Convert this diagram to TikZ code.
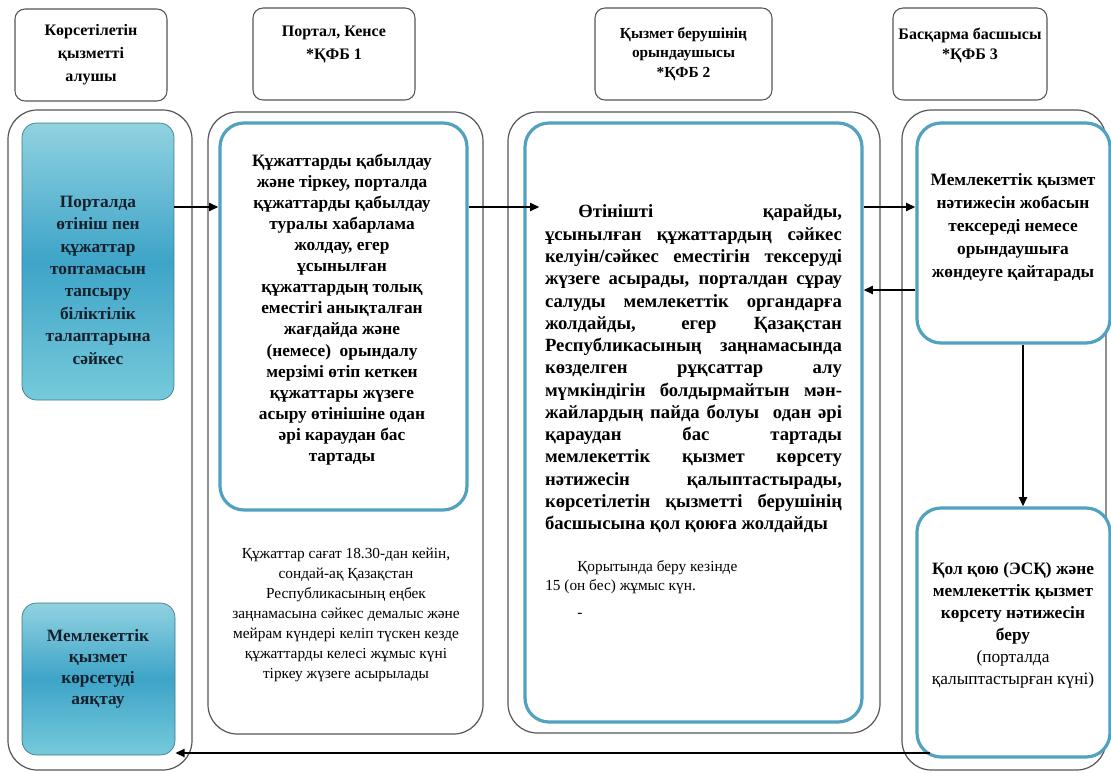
\documentclass[tikz,border=0pt]{standalone}
\usepackage{fontspec}
\setmainfont{Liberation Serif}
\usetikzlibrary{arrows.meta,positioning}

\definecolor{frame}{RGB}{85,85,85}
\definecolor{tealedge}{RGB}{80,162,192}
\definecolor{bluetop}{RGB}{145,210,224}
\definecolor{bluemid}{RGB}{62,164,200}
\definecolor{bluebot}{RGB}{118,202,218}
\definecolor{blueedge}{RGB}{60,118,140}
\definecolor{ink}{RGB}{22,32,44}

\tikzset{
	lane/.style={draw=frame, line width=0.9pt, rounded corners=22pt},
	head/.style={draw=frame, line width=0.8pt, rounded corners=7.5pt, align=center, font=\bfseries\fontsize{12}{17.25}\selectfont},
	bluebox/.style={draw=blueedge, line width=0.5pt, rounded corners=11pt, top color=bluetop, bottom color=bluebot, middle color=bluemid},
	tealbox/.style={draw=tealedge, line width=2.4pt, rounded corners=18pt, fill=white},
	txt/.style={align=center, inner sep=0pt, font=\bfseries\fontsize{13}{16}\selectfont},
	note/.style={align=center, inner sep=0pt, font=\fontsize{11.5}{15}\selectfont},
	arrow/.style={-{Triangle[length=7pt,width=6pt]}, line width=1.6pt},
}

\begin{document}
\begin{tikzpicture}[x=0.75pt,y=-0.75pt]
	\useasboundingbox (0,0) rectangle (1111,772);

	\node (hdrRecipient) [head, minimum width=114pt, minimum height=69pt] at (91,55) {Көрсетілетін\\қызметті\\алушы};
	\node (hdrPortal) [head, minimum width=121.5pt, minimum height=69pt] at (334,54) {Портал, Кенсе\\*ҚФБ 1\\~};
	\node (hdrExecutor) [head, minimum width=132.75pt, minimum height=69pt, font=\bfseries\fontsize{11.5}{14.5}\selectfont] at (683.5,54) {Қызмет берушінің\\орындаушысы\\*ҚФБ 2};
	\node (hdrHead) [head, minimum width=115.5pt, minimum height=69pt, font=\bfseries\fontsize{12}{15}\selectfont] at (970,54) {Басқарма басшысы\\*ҚФБ 3\\~};

	\node (laneRecipient) [lane, minimum width=138pt, minimum height=495pt] at (100,440) {};
	\node (lanePortal) [lane, minimum width=206.25pt, minimum height=466.5pt] at (345.5,423) {};
	\node (laneExecutor) [lane, minimum width=279pt, minimum height=465.75pt] at (694,422.5) {};
	\node (laneHead) [lane, minimum width=153pt, minimum height=495pt] at (1004,440) {};

	\node (apply) [bluebox, minimum width=114pt, minimum height=207.75pt] at (98,261.5) {};
	\node (finish) [bluebox, minimum width=114.75pt, minimum height=114pt] at (98.5,679) {};
	\node (receive) [tealbox, minimum width=185.25pt, minimum height=290.25pt] at (343.5,316.5) {};
	\node (examine) [tealbox, minimum width=252.75pt, minimum height=449.25pt] at (693.5,422.5) {};
	\node (check) [tealbox, minimum width=144.75pt, minimum height=165pt] at (1013.5,233) {};
	\node (issue) [tealbox, minimum width=144.75pt, minimum height=186.75pt] at (1013.5,632.5) {};

	\node (applyText) [txt, text=ink, font=\bfseries\fontsize{13}{16.8}\selectfont] at (98,280) {Порталда\\өтініш пен\\құжаттар\\топтамасын\\тапсыру\\біліктілік\\талаптарына\\сәйкес};
	\node (finishText) [txt, text=ink, font=\bfseries\fontsize{13}{15.75}\selectfont] at (98,669) {Мемлекеттік\\қызмет\\көрсетуді\\аяқтау};
	\node (receiveText) [txt, font=\bfseries\fontsize{13}{15.8}\selectfont] at (342,309.5) {Құжаттарды қабылдау\\және тіркеу, порталда\\құжаттарды қабылдау\\туралы хабарлама\\жолдау, егер\\ұсынылған\\құжаттардың толық\\еместігі анықталған\\жағдайда және\\(немесе)\ \ орындалу\\мерзімі өтіп кеткен\\құжаттары жүзеге\\асыру өтінішіне одан\\әрі караудан бас\\тартады};
	\node (receiveNote) [note] at (346,615) {Құжаттар сағат 18.30-дан кейін,\\сондай-ақ Қазақстан\\Республикасының еңбек\\заңнамасына сәйкес демалыс және\\мейрам күндері келіп түскен кезде\\құжаттарды келесі жұмыс күні\\тіркеу жүзеге асырылады};
	\node (examineText) [txt, align=justify, text width=222.75pt, font=\bfseries\fontsize{14}{16.7}\selectfont] at (693.5,369) {\hyphenpenalty=10000\relax\hspace*{25pt}Өтінішті қарайды,\linebreak ұсынылған құжаттардың сәйкес\linebreak келуін/сәйкес еместігін тексеруді\linebreak жүзеге асырады, порталдан сұрау\linebreak салуды мемлекеттік органдарға\linebreak жолдайды, егер Қазақстан\linebreak Республикасының заңнамасында\linebreak көзделген рұқсаттар алу\linebreak мүмкіндігін болдырмайтын мән-\linebreak жайлардың пайда болуы\ \ одан әрі\linebreak қараудан бас тартады\linebreak мемлекеттік қызмет көрсету\linebreak нәтижесін қалыптастырады,\linebreak көрсетілетін қызметті берушінің\linebreak басшысына қол қоюға жолдайды};
	\node (examineNote) [note, align=left, anchor=north west, font=\fontsize{11.5}{14.25}\selectfont] at (545,560) {\hspace*{24pt}Қорытында беру кезінде\\15 (он бес) жұмыс күн.};
	\node (examineDash) [note] at (580,615) {-};
	\node (checkText) [txt, font=\bfseries\fontsize{13}{17.25}\selectfont] at (1013,227.5) {Мемлекеттік қызмет\\нәтижесін жобасын\\тексереді немесе\\орындаушыға\\жөндеуге қайтарады};
	\node (issueText) [txt, font=\bfseries\fontsize{13}{16.5}\selectfont] at (1013,625) {Қол қою (ЭСҚ) және\\мемлекеттік қызмет\\көрсету нәтижесін\\беру\\{\mdseries (порталда}\\{\mdseries қалыптастырған күні)}};

	\coordinate (rowIn) at (0,207);
	\coordinate (rowBack) at (0,290);
	\coordinate (rowOut) at (0,753);
	\coordinate (colDown) at (1023,0);

	\draw [arrow] (apply.east |- rowIn) -- (receive.west |- rowIn);
	\draw [arrow, shorten >=4pt] (receive.east |- rowIn) -- (examineText.west |- rowIn);
	\draw [arrow] (examine.east |- rowIn) -- (check.west |- rowIn);
	\draw [arrow] (check.west |- rowBack) -- (examine.east |- rowBack);
	\draw [arrow] (colDown |- check.south) -- (colDown |- issue.north);
	\draw [arrow] ([xshift=11pt]issue.west |- rowOut) -- (finish.east |- rowOut);
\end{tikzpicture}
\end{document}
